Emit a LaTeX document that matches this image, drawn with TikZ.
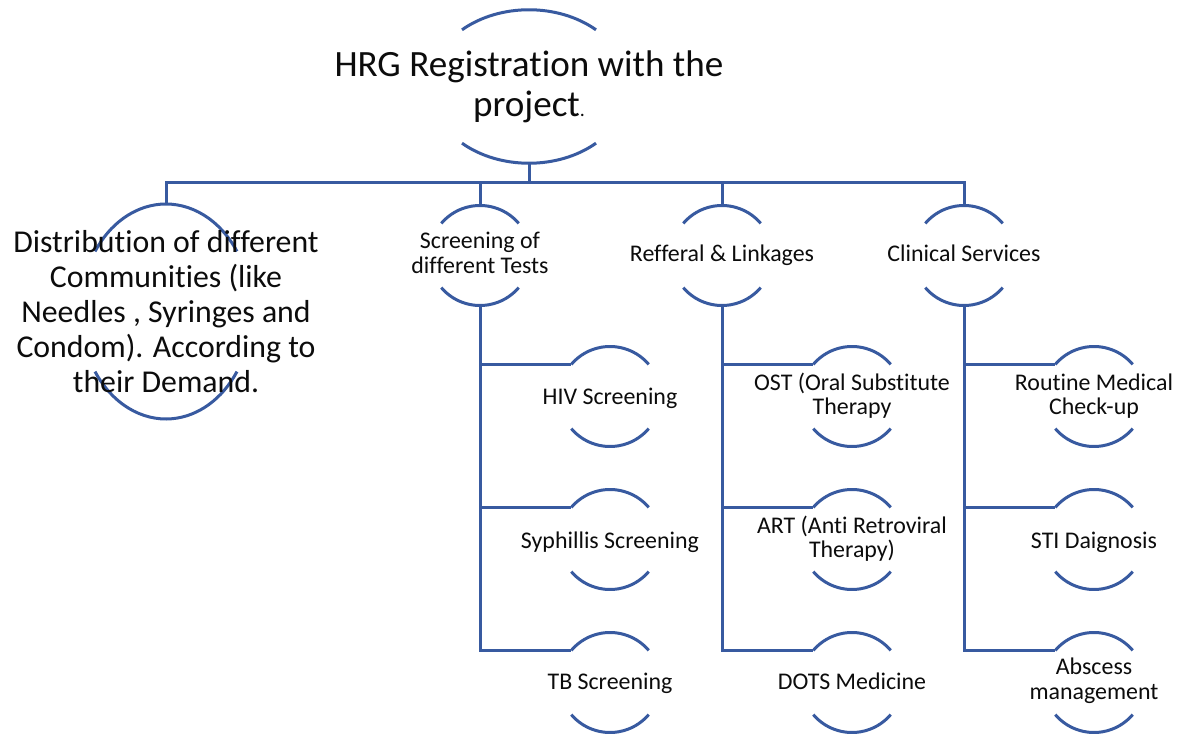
\documentclass[tikz,border=0pt]{standalone}
\usepackage{fontspec}
\setmainfont{Carlito}[Ligatures={NoCommon}, RawFeature={-calt}]
\usetikzlibrary{calc}
\definecolor{lineblue}{RGB}{56,90,160}
\definecolor{txt}{RGB}{12,12,12}
\tikzset{
  arcline/.style={draw=lineblue, line width=3pt},
  link/.style={draw=lineblue, line width=3pt},
  lbl/.style={anchor=base, align=center, inner sep=0pt, text=txt, font=\fontsize{23.9}{24.5}\selectfont},
  toplbl/.style={lbl, font=\fontsize{37.1}{40}\selectfont},
  distlbl/.style={lbl, font=\fontsize{31.8}{35}\selectfont},
}
% name, cx, cy (pixels down), rx, ry, t0
\newcommand\arcshape[6]{%
  \coordinate (#1-c) at (#2,-#3);
  \draw[arcline] ($(#1-c)+({#4*cos(#6)},{#5*sin(#6)})$) arc[start angle=#6, end angle={180-#6}, x radius=#4pt, y radius=#5pt];
  \draw[arcline] ($(#1-c)+({-#4*cos(#6)},{-#5*sin(#6)})$) arc[start angle={180+#6}, end angle={360-#6}, x radius=#4pt, y radius=#5pt];
  \coordinate (#1-t) at ($(#1-c)+(0,#5)$);
  \coordinate (#1-b) at ($(#1-c)+(0,-#5)$);
  \coordinate (#1-l) at ($(#1-c)+({-#4*cos(#6)},{#5*sin(#6)})$);
}
\begin{document}
\begin{tikzpicture}[x=1pt,y=1pt]
\fill[white] (0,0) rectangle (1184,-735);
\useasboundingbox (0,0) rectangle (1184,-735);

% shapes
\arcshape{top}{529}{86.5}{99.4}{76.75}{47.6}
\arcshape{dist}{166}{311.5}{85.6}{107.5}{34}
\arcshape{scr}{480}{255.5}{50.5}{50}{40}
\arcshape{ref}{722}{255.5}{50.5}{50}{40}
\arcshape{cli}{964}{255.5}{50.5}{50}{40}
\arcshape{hiv}{610}{396.5}{50.5}{50}{40}
\arcshape{syp}{610}{539.5}{50.5}{50}{40}
\arcshape{tb}{610}{682.5}{50.5}{50}{40}
\arcshape{ost}{852}{396.5}{50.5}{50}{40}
\arcshape{art}{852}{539.5}{50.5}{50}{40}
\arcshape{dots}{852}{682.5}{50.5}{50}{40}
\arcshape{rou}{1094}{396.5}{50.5}{50}{40}
\arcshape{sti}{1094}{539.5}{50.5}{50}{40}
\arcshape{abs}{1094}{682.5}{50.5}{50}{40}

% connectors
\coordinate (bus) at (0,-183);
\draw[link] (top-b) -- (top-b |- bus);
\draw[link] (dist-t) -- (dist-t |- bus) -- (cli-t |- bus) -- (cli-t);
\draw[link] (scr-t |- bus) -- (scr-t);
\draw[link] (ref-t |- bus) -- (ref-t);

\draw[link] (scr-b) -- (scr-b |- tb-l) -- (tb-l);
\draw[link] (scr-b |- hiv-l) -- (hiv-l);
\draw[link] (scr-b |- syp-l) -- (syp-l);

\draw[link] (ref-b) -- (ref-b |- dots-l) -- (dots-l);
\draw[link] (ref-b |- ost-l) -- (ost-l);
\draw[link] (ref-b |- art-l) -- (art-l);

\draw[link] (cli-b) -- (cli-b |- abs-l) -- (abs-l);
\draw[link] (cli-b |- rou-l) -- (rou-l);
\draw[link] (cli-b |- sti-l) -- (sti-l);

% texts (anchor base = baseline of the last line)
\node[toplbl] (topt) at (529,-117) {HRG Registration with the\\project{\fontsize{20}{20}\selectfont .}};
\node[distlbl] (distt) at (166,-392) {Distribution of different\\Communities (like\\Needles , Syringes and\\Condom). According to\\their Demand.};
\node[lbl] (scrt) at (480,-273.5) {Screening of\\different Tests};
\node[lbl] (reft) at (722,-262) {Refferal \& Linkages};
\node[lbl] (clit) at (964,-262) {Clinical Services};
\node[lbl] (hivt) at (610,-404) {HIV Screening};
\node[lbl] (sypt) at (610,-548) {Syphillis Screening};
\node[lbl] (tbt) at (610,-689) {TB Screening};
\node[lbl] (ostt) at (852,-414.5) {OST (Oral Substitute\\Therapy};
\node[lbl] (artt) at (852,-557.5) {ART (Anti Retroviral\\Therapy)};
\node[lbl] (dotst) at (852,-689) {DOTS Medicine};
\node[lbl] (rout) at (1094,-414.5) {Routine Medical\\Check-up};
\node[lbl] (stit) at (1094,-548) {STI Daignosis};
\node[lbl] (abst) at (1094,-699) {Abscess\\management};
\end{tikzpicture}
\end{document}
